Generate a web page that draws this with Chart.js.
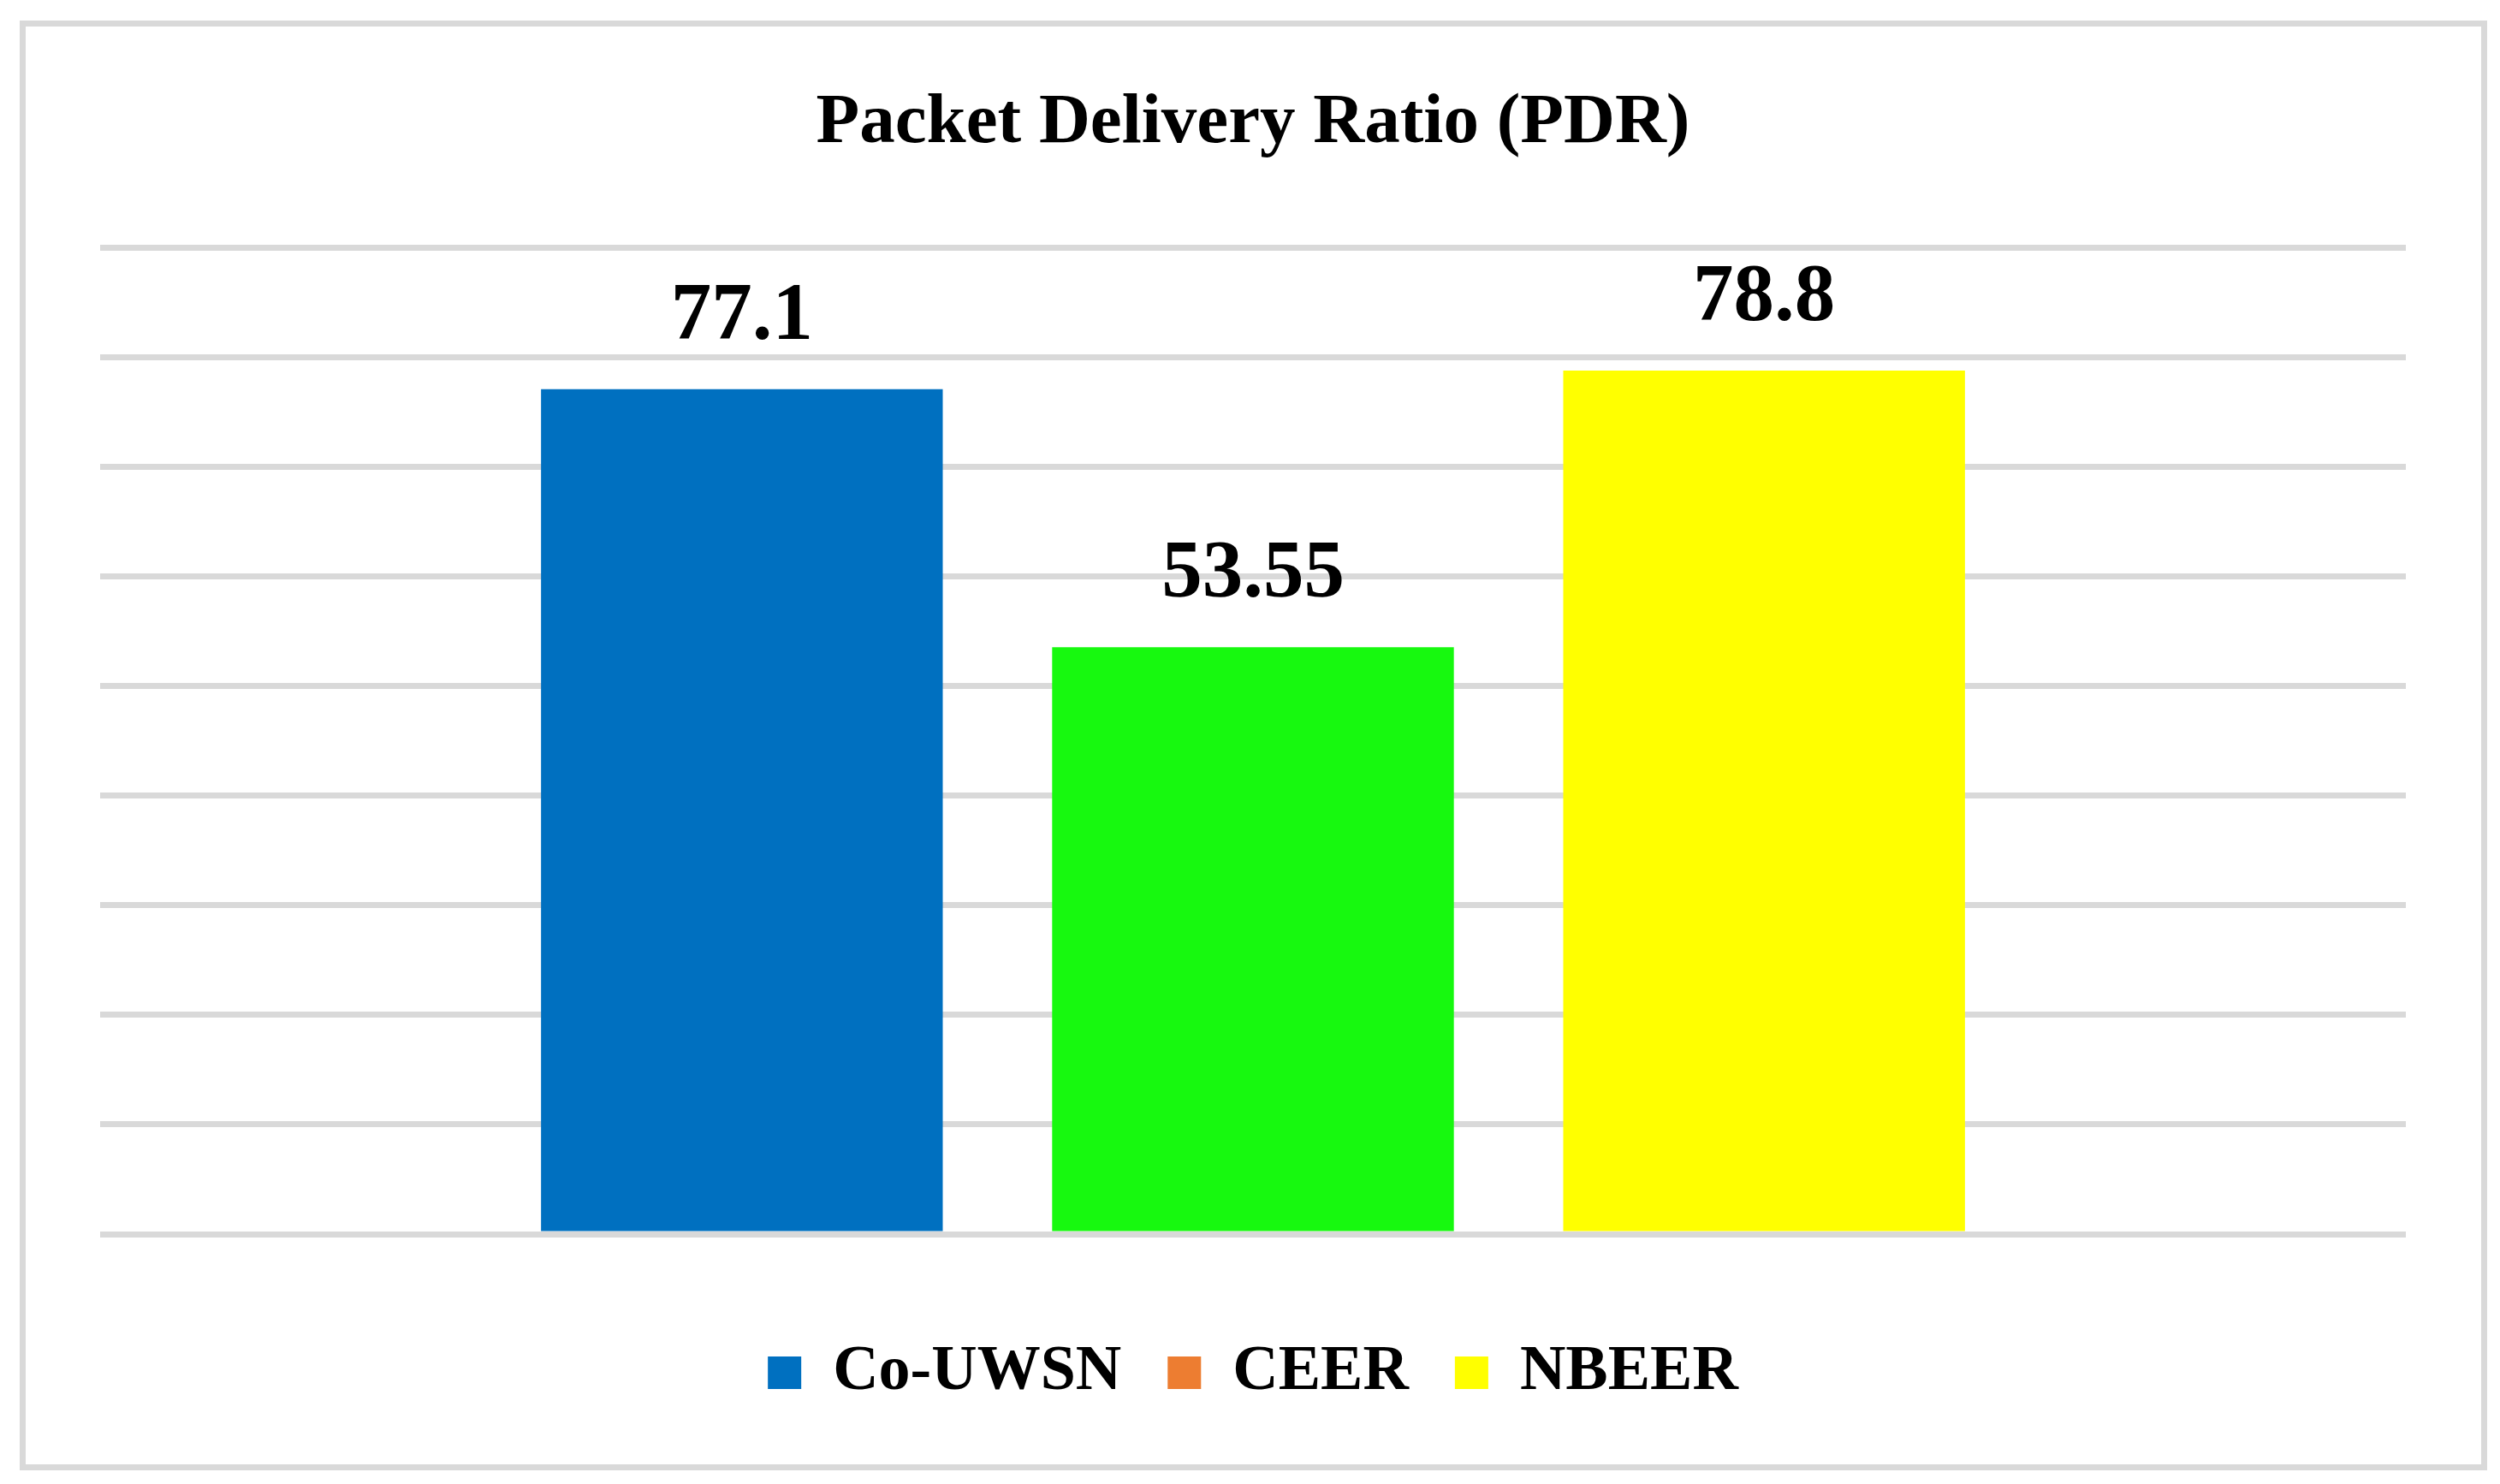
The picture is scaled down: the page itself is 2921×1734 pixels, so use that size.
<!DOCTYPE html>
<html>
<head>
<meta charset="utf-8">
<title>Packet Delivery Ratio (PDR)</title>
<script src="https://cdn.jsdelivr.net/npm/chart.js@4/dist/chart.umd.min.js"></script>
<style>
    html, body { margin: 0; padding: 0; background: #ffffff; }
    #frame {
        position: absolute;
        left: 23px;
        top: 24px;
        width: 2869px;
        height: 1680px;
        border: 7px solid #d9d9d9;
        background: #ffffff;
    }
</style>
</head>
<body>
<div id="frame"><canvas id="pdrChart"></canvas></div>
<script>
// Data
const categories = [''];
const seriesNames = ['Co-UWSN', 'CEER', 'NBEER'];
const coUwsnValues = [77.1];
const ceerValues = [53.55];
const nbeerValues = [78.8];
const yTicks = [0, 10, 20, 30, 40, 50, 60, 70, 80, 90];

// bar fills, and the legend swatches (CEER is green in the bars but orange in the legend)
const barColors = ['#0070c0', '#17f90f', '#ffff00'];
const legendColors = ['#0070c0', '#ed7d31', '#ffff00'];

Chart.defaults.font.family = "'Liberation Serif', 'Times New Roman', serif";
Chart.defaults.color = '#000000';

// Value labels on top of each bar
const valueLabels = {
    id: 'valueLabels',
    afterDatasetsDraw(chart) {
        const ctx = chart.ctx;
        ctx.save();
        ctx.font = 'bold 95px "Liberation Serif", "Times New Roman", serif';
        ctx.fillStyle = '#000000';
        ctx.textAlign = 'center';
        ctx.textBaseline = 'alphabetic';
        chart.data.datasets.forEach((ds, i) => {
            const meta = chart.getDatasetMeta(i);
            meta.data.forEach((bar, j) => {
                ctx.fillText(String(ds.data[j]), bar.x, bar.y - 59);
            });
        });
        ctx.restore();
    }
};

const ctx = document.getElementById('pdrChart').getContext('2d');
const pdrChart = new Chart(ctx, {
    type: 'bar',
    data: {
        labels: categories,
        datasets: [
            { label: seriesNames[0], data: coUwsnValues, backgroundColor: barColors[0] },
            { label: seriesNames[1], data: ceerValues, backgroundColor: barColors[1] },
            { label: seriesNames[2], data: nbeerValues, backgroundColor: barColors[2] }
        ]
    },
    options: {
        responsive: true,
        maintainAspectRatio: false,
        animation: false,
        categoryPercentage: 0.665,
        barPercentage: 0.786,
        layout: {
            padding: { left: 87, right: 88, top: 0, bottom: 60 }
        },
        plugins: {
            title: {
                display: true,
                text: 'Packet Delivery Ratio (PDR)',
                color: '#000000',
                font: { size: 83, weight: 'bold' },
                padding: { top: 64, bottom: 95 }
            },
            legend: {
                display: true,
                position: 'bottom',
                labels: {
                    boxWidth: 39,
                    boxHeight: 38,
                    padding: 54,
                    color: '#000000',
                    font: { size: 74, weight: 'bold' },
                    generateLabels(chart) {
                        return chart.data.datasets.map((ds, i) => ({
                            text: ds.label,
                            fillStyle: legendColors[i],
                            strokeStyle: legendColors[i],
                            lineWidth: 0,
                            fontColor: '#000000',
                            hidden: !chart.isDatasetVisible(i),
                            datasetIndex: i
                        }));
                    }
                }
            },
            tooltip: { enabled: false }
        },
        scales: {
            x: {
                display: true,
                grid: { display: false },
                border: { display: false },
                ticks: { display: false },
                afterFit(scale) { scale.height = 71; }
            },
            y: {
                min: yTicks[0],
                max: yTicks[yTicks.length - 1],
                afterBuildTicks(scale) {
                    scale.ticks = yTicks.map(v => ({ value: v }));
                },
                grid: { color: '#d9d9d9', lineWidth: 7, drawTicks: false },
                border: { display: false },
                ticks: { display: false }
            }
        }
    },
    plugins: [valueLabels]
});
</script>
</body>
</html>
